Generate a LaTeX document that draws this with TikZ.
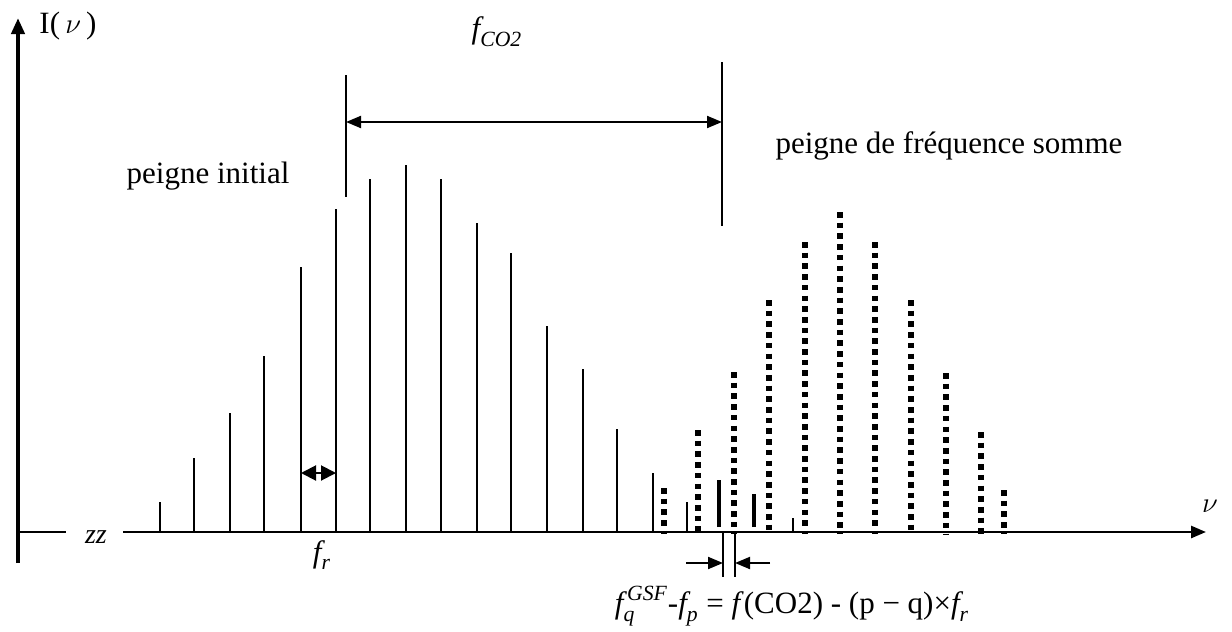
\documentclass[tikz,border=0pt]{standalone}
\usepackage{amsmath}
\usepackage{fontspec}
\setmainfont{Liberation Serif}
\usetikzlibrary{arrows.meta}

\tikzset{
  peak/.style={line width=1pt},
  sumpeak/.style={line width=2.8pt,dash pattern=on 2.8pt off 2.55pt},
  axis/.style={line width=1.3pt},
  bigtip/.style={-{Triangle[length=7.5pt,width=6pt]}},
  lbl/.style={font=\fontsize{15.5}{18}\selectfont,inner sep=0pt},
}

\begin{document}
\begin{tikzpicture}[x=0.5pt,y=-0.5pt,line cap=butt]
  \useasboundingbox (0,0) rectangle (1232,632);

  % axes
  \coordinate (ybot) at (18,563);
  \coordinate (ytop) at (18,18);
  \coordinate (xa) at (18,532);
  \coordinate (xb) at (66,532);
  \coordinate (xc) at (123,532);
  \coordinate (xend) at (1206,532);
  \draw[line width=2pt,-{Triangle[length=8pt,width=6.5pt]}] (ybot) -- (ytop);
  \draw[axis] (xa) -- (xb);
  \draw[axis,bigtip] (xc) -- (xend);
  \node[lbl,font=\fontsize{14}{16}\selectfont\itshape] (brk) at (96,537) {zz};

  % initial comb
  \foreach \x/\t in {160/502,194/458,230/413,264/356,301/267,336/209,370/179,
                     406/165,441/179,477/223,511/253,547/326,583/369,617/429,
                     653/473,687/502,793/518}
    \draw[peak] (\x,532) -- (\x,\t);
  \draw[line width=1.6pt] (719,527) -- (719,480);
  \draw[line width=1.6pt] (754,527) -- (754,494);

  % sum-frequency comb
  \foreach \x/\t in {664/488,698/430,734/372,769/300,805/242,840/212,
                     875/242,911/300,946/373,981/432,1004/490}
    \draw[sumpeak] (\x,\t) -- (\x,534);

  % f_CO2 marks
  \coordinate (mA) at (346,75);
  \coordinate (mB) at (346,197);
  \coordinate (mC) at (722,62);
  \coordinate (mD) at (722,226);
  \draw[peak] (mA) -- (mB);
  \draw[peak] (mC) -- (mD);
  \coordinate (co2L) at (346,122);
  \coordinate (co2R) at (722,122);
  \draw[peak,{Triangle[length=7.5pt,width=6pt]}-{Triangle[length=7.5pt,width=6pt]}]
    (co2L) -- (co2R);

  % f_r spacing
  \coordinate (frL) at (301,473);
  \coordinate (frR) at (336,473);
  \draw[peak,{Triangle[length=7.5pt,width=7.5pt]}-{Triangle[length=7.5pt,width=7.5pt]}]
    (frL) -- (frR);

  % offset marks
  \coordinate (dA) at (723,532);
  \coordinate (dB) at (723,577);
  \coordinate (dC) at (735,532);
  \coordinate (dD) at (735,577);
  \draw[peak] (dA) -- (dB);
  \draw[peak] (dC) -- (dD);
  \coordinate (inL) at (686,563);
  \coordinate (inR) at (770,563);
  \draw[peak,-{Triangle[length=7.5pt,width=6pt]}] (inL) -- (723,563);
  \draw[peak,-{Triangle[length=7.5pt,width=6pt]}] (inR) -- (735,563);

  % labels
  \node[lbl] (ylab) at (68,26) {I(\,$\nu$\,)};
  \node[lbl] (xlab) at (1210,506) {$\nu$};
  \node[lbl] (fco2) at (497,32) {$\textit{f}_{\textit{CO2}}$};
  \node[lbl] (init) at (208,176) {peigne initial};
  \node[lbl] (somme) at (949,146) {peigne de fréquence somme};
  \node[lbl] (frlab) at (322,555) {$\textit{f}_{\textit{r}}$};
  \node[lbl] (delta) at (792,606)
    {$\textit{f}_{\textit{q}}^{\,\textit{GSF}}$-$\textit{f}_{\textit{p}}$
     = \textit{f}(CO2) - (p − q)×$\textit{f}_{\textit{r}}$};

\end{tikzpicture}
\end{document}
